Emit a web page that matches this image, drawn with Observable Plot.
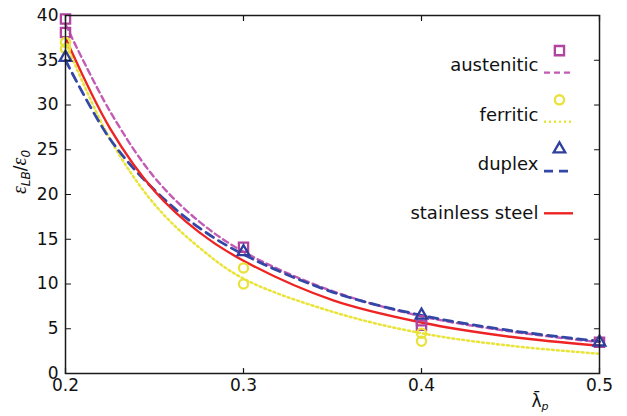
<!DOCTYPE html>
<html><head><meta charset="utf-8">
<script src="https://cdn.jsdelivr.net/npm/d3@7"></script>
<script src="https://cdn.jsdelivr.net/npm/@observablehq/plot@0.6"></script>
<style>body{margin:0;background:#fff}</style>
</head><body><div id="chart"></div>
<script>
// ---- data ----
const curveX = [0.2, 0.225, 0.25, 0.275, 0.3, 0.35, 0.4, 0.45, 0.5];
const austeniticCurve = [39.0, 29.3, 21.9, 17.0, 13.6, 9.2, 6.4, 4.7, 3.5];
const ferriticCurve   = [37.0, 26.2, 18.9, 14.1, 10.6, 6.9, 4.5, 3.1, 2.2];
const duplexCurve     = [35.0, 26.2, 20.5, 16.3, 13.3, 9.1, 6.5, 4.8, 3.6];
const stainlessCurve  = [37.5, 27.4, 20.4, 15.8, 12.6, 8.2, 5.7, 4.1, 3.1];

const austeniticX = [0.2, 0.2, 0.3, 0.4, 0.4, 0.5];
const austeniticY = [39.6, 38.1, 14.1, 5.9, 5.4, 3.5];
const ferriticX = [0.2, 0.2, 0.3, 0.3, 0.4, 0.4];
const ferriticY = [37.0, 36.3, 11.8, 10.0, 4.5, 3.6];
const duplexX = [0.2, 0.3, 0.4, 0.5];
const duplexY = [35.3, 13.6, 6.5, 3.5];

const xTicks = [0.2, 0.3, 0.4, 0.5];
const xTickLabels = ["0.2", "0.3", "0.4", "0.5"];
const yTicks = [0, 5, 10, 15, 20, 25, 30, 35, 40];
const legendLabels = ["austenitic", "ferritic", "duplex", "stainless steel"];

// ---- styling ----
const series = [
  {name: legendLabels[0], curve: austeniticCurve, mx: austeniticX, my: austeniticY,
   line: "#c35bb5", mark: "#b0449f", dash: "6,4", width: 2.4, symbol: "square", r: 5.2},
  {name: legendLabels[1], curve: ferriticCurve, mx: ferriticX, my: ferriticY,
   line: "#e9e43a", mark: "#e8e23a", dash: "2,3", width: 2.5, symbol: "circle", r: 4.6},
  {name: legendLabels[2], curve: duplexCurve, mx: duplexX, my: duplexY,
   line: "#3347a6", mark: "#2f3f9e", dash: "9,6", width: 2.8, symbol: "triangle", r: 4.3},
  {name: legendLabels[3], curve: stainlessCurve, mx: null, my: null,
   line: "#ee2424", mark: null, dash: null, width: 2.4, symbol: null, r: 0}
];

const tickShape = {draw(ctx, l) { ctx.moveTo(0, 0); ctx.lineTo(0, -l); }};
const xMin = xTicks[0], xMax = xTicks[xTicks.length - 1];
const yMin = yTicks[0], yMax = yTicks[yTicks.length - 1];

const marks = [];
series.forEach(s => {
  marks.push(Plot.line(curveX.map((x, i) => ({x, y: s.curve[i]})), {
    x: "x", y: "y", stroke: s.line, strokeWidth: s.width,
    strokeDasharray: s.dash ?? undefined, curve: "catmull-rom"
  }));
});
series.forEach(s => {
  if (!s.mx) return;
  marks.push(Plot.dot(s.mx.map((x, i) => ({x, y: s.my[i]})), {
    x: "x", y: "y", symbol: s.symbol, r: s.r, stroke: s.mark, strokeWidth: 2.3, fill: "none"
  }));
});

// legend (inside top-right)
const legTextX = 0.4657, legMarkX = 0.4775, legX1 = 0.4691, legX2 = 0.4854;
series.forEach((s, i) => {
  const rowY = 34.4 - i * 5.5;
  marks.push(Plot.text([s.name], {x: legTextX, y: rowY, text: d => d, textAnchor: "end",
    fontSize: 18, fill: "#111"}));
  const lineDy = s.mark ? 7 : 0;
  marks.push(Plot.ruleY([rowY], {x1: legX1, x2: legX2, dy: lineDy, stroke: s.line,
    strokeWidth: s.width, strokeDasharray: s.dash ?? undefined}));
  if (s.mark) {
    marks.push(Plot.dot([rowY], {x: legMarkX, y: d => d, dy: -15, symbol: s.symbol, r: s.r,
      stroke: s.mark, strokeWidth: 2.3, fill: "none"}));
  }
});

// axes: labels only, with inward ticks on all four sides
marks.push(Plot.axisY(yTicks, {anchor: "left", tickSize: 0, tickPadding: 7, fontSize: 17, label: null}));
marks.push(Plot.axisX(xTicks, {anchor: "bottom", tickSize: 0, tickPadding: 5, fontSize: 17, label: null,
  tickFormat: (d, i) => xTickLabels[xTicks.indexOf(d)]}));
const tl = 5, tw = 1.2;
marks.push(Plot.vector(yTicks, {x: () => xMin, y: d => d, length: tl, rotate: 90, anchor: "start", shape: tickShape, stroke: "#111", strokeWidth: tw}));
marks.push(Plot.vector(yTicks, {x: () => xMax, y: d => d, length: tl, rotate: -90, anchor: "start", shape: tickShape, stroke: "#111", strokeWidth: tw}));
marks.push(Plot.vector(xTicks, {x: d => d, y: () => yMin, length: tl, rotate: 0, anchor: "start", shape: tickShape, stroke: "#111", strokeWidth: tw}));
marks.push(Plot.vector(xTicks, {x: d => d, y: () => yMax, length: tl, rotate: 180, anchor: "start", shape: tickShape, stroke: "#111", strokeWidth: tw}));
marks.push(Plot.frame({stroke: "#1a1a1a", strokeWidth: 1.5}));

const chart = Plot.plot({
  width: 627, height: 416,
  marginLeft: 65, marginRight: 28, marginTop: 15, marginBottom: 43,
  style: {fontFamily: "DejaVu Sans", fontSize: "17px", color: "#111", background: "#fff"},
  x: {domain: [xMin, xMax], axis: null},
  y: {domain: [yMin, yMax], axis: null},
  marks
});

const svg = d3.select(chart);
// y-axis label
const yl = svg.append("text")
  .attr("transform", "translate(26,172) rotate(-90)")
  .attr("text-anchor", "middle")
  .attr("fill", "#111")
  .style("font-family", "Liberation Serif").style("font-size", "20px").style("font-style", "italic");
yl.append("tspan").text("ε");
yl.append("tspan").attr("dy", 4).style("font-size", "12px").style("font-family", "DejaVu Sans").text("LB");
yl.append("tspan").attr("dy", -4).style("font-family", "DejaVu Sans").style("font-style", "normal").style("font-size", "17px").text("/");
yl.append("tspan").text("ε");
yl.append("tspan").attr("dy", 4).style("font-size", "12px").style("font-family", "DejaVu Sans").text("0");

// x-axis label
const xl = svg.append("text")
  .attr("x", 540).attr("y", 407)
  .attr("fill", "#111")
  .style("font-family", "DejaVu Sans").style("font-size", "17px");
xl.append("tspan").text("λ\u0304");
xl.append("tspan").attr("dy", 3).style("font-size", "11px").style("font-style", "italic").text("p");

document.getElementById("chart").appendChild(chart);
</script>
</body></html>
